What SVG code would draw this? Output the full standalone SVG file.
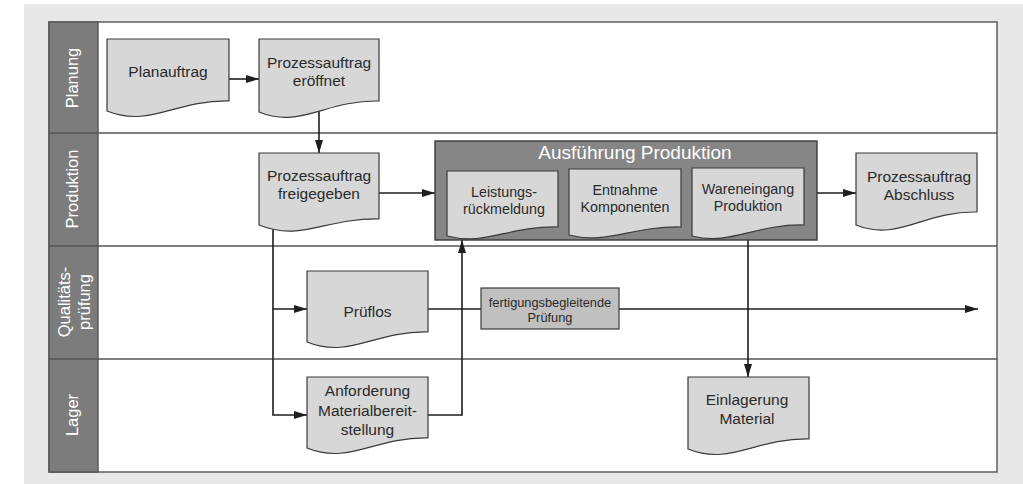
<svg xmlns="http://www.w3.org/2000/svg" width="1023" height="484" viewBox="0 0 1023 484">
<defs>
<style>
.doc{fill:#d7d7d7;stroke:#3a3a3a;stroke-width:1.2}
.t{font-family:"Liberation Sans",Arial,sans-serif;fill:#2a2a2a;text-anchor:middle}
.big{font-size:15.5px}
.mid{font-size:14.3px}
.lane{font-family:"Liberation Sans",Arial,sans-serif;font-size:16.5px;fill:#ffffff;text-anchor:middle}
.conn{fill:none;stroke:#1e1e1e;stroke-width:1.6}
.sep{stroke:#555555;stroke-width:1.4}
</style>
<marker id="ah" markerUnits="userSpaceOnUse" markerWidth="13" markerHeight="8" refX="13" refY="4" orient="auto">
<path d="M0,0 L13,4 L0,8 Z" fill="#1e1e1e"/>
</marker>
</defs>
<rect x="0" y="0" width="1023" height="484" fill="#ffffff"/>
<rect x="24" y="4" width="999" height="480" fill="#e8e8e8"/>
<g id="frame">
<rect x="49" y="22" width="948" height="450" fill="#ffffff" stroke="#555555" stroke-width="1.4"/>
<rect x="49" y="22" width="49" height="450" fill="#7c7c7c" stroke="#555555" stroke-width="1.4"/>
<line class="sep" x1="49" y1="133" x2="997" y2="133"/>
<line class="sep" x1="49" y1="246" x2="997" y2="246"/>
<line class="sep" x1="49" y1="359" x2="997" y2="359"/>
</g>
<g id="lanes">
<text class="lane" transform="translate(78,78) rotate(-90)">Planung</text>
<text class="lane" transform="translate(78,189) rotate(-90)">Produktion</text>
<text class="lane" transform="translate(70,302) rotate(-90)">Qualitäts-</text>
<text class="lane" transform="translate(90,302) rotate(-90)">prüfung</text>
<text class="lane" transform="translate(78,415) rotate(-90)">Lager</text>
</g>
<g id="connectors">
<path class="conn" d="M229,79 H259" marker-end="url(#ah)"/>
<path class="conn" d="M319,108 V153" marker-end="url(#ah)"/>
<path class="conn" d="M379,193 H435" marker-end="url(#ah)"/>
<path class="conn" d="M273,222 V309 H307" marker-end="url(#ah)"/>
<path class="conn" d="M273,309 V415 H307" marker-end="url(#ah)"/>
<path class="conn" d="M428,415 H462 V240" marker-end="url(#ah)"/>
<path class="conn" d="M817,193 H856" marker-end="url(#ah)"/>
<path class="conn" d="M748,232 V377" marker-end="url(#ah)"/>
<path class="conn" d="M428,309 H978" marker-end="url(#ah)"/>
</g>
<g id="planauftrag">
<path class="doc" d="M107,39 H229 V101 C174.1,100 149.7,128 107,111 Z"/>
<text class="t big" x="168" y="77">Planauftrag</text>
</g>
<g id="eroeffnet">
<path class="doc" d="M259,39 H379 V101 C325,100 301,129 259,112 Z"/>
<text class="t big" x="319" y="68">Prozessauftrag</text>
<text class="t big" x="319" y="86">eröffnet</text>
</g>
<g id="freigegeben">
<path class="doc" d="M259,153 H379 V219 C325,218 301,242 259,225 Z"/>
<text class="t big" x="319" y="181">Prozessauftrag</text>
<text class="t big" x="319" y="199">freigegeben</text>
</g>
<g id="ausfuehrung">
<rect x="435" y="141" width="382" height="99" fill="#868686" stroke="#3a3a3a" stroke-width="1.4"/>
<text x="635" y="159" font-family="'Liberation Sans',Arial,sans-serif" font-size="19px" fill="#ffffff" text-anchor="middle">Ausführung Produktion</text>
</g>
<g id="leistung">
<path class="doc" d="M447,171 H558 V227 C508,226 485.9,246 447,236 Z"/>
<text class="t mid" x="504" y="196.5">Leistungs-</text>
<text class="t mid" x="504" y="214">rückmeldung</text>
</g>
<g id="entnahme">
<path class="doc" d="M569,169 H681 V227 C630.6,226 608.2,245 569,235 Z"/>
<text class="t mid" x="625" y="195">Entnahme</text>
<text class="t mid" x="625" y="212">Komponenten</text>
</g>
<g id="wareneingang">
<path class="doc" d="M692,168 H804 V225 C753.6,224 731.2,246 692,236 Z"/>
<text class="t mid" x="748" y="194">Wareneingang</text>
<text class="t mid" x="748" y="211">Produktion</text>
</g>
<g id="abschluss">
<path class="doc" d="M856,153 H977 V212 C922.5,211 898.4,242 856,225 Z"/>
<text class="t big" x="919" y="182">Prozessauftrag</text>
<text class="t big" x="919" y="200">Abschluss</text>
</g>
<g id="prueflos">
<path class="doc" d="M307,271 H428 V332 C373.5,331 349.4,359 307,342 Z"/>
<text class="t big" x="367.5" y="317">Prüflos</text>
</g>
<g id="pruefung">
<rect x="481" y="288" width="138" height="41" fill="#c0c0c0" stroke="#3a3a3a" stroke-width="1.2"/>
<text class="t" font-size="12.8px" x="550" y="306.5">fertigungsbegleitende</text>
<text class="t" font-size="12.8px" x="550" y="321.5">Prüfung</text>
</g>
<g id="anforderung">
<path class="doc" d="M307,377 H428 V438 C373.5,437 349.4,465 307,448 Z"/>
<text class="t big" x="367.5" y="396">Anforderung</text>
<text class="t big" x="367.5" y="415.5">Materialbereit-</text>
<text class="t big" x="367.5" y="435">stellung</text>
</g>
<g id="einlagerung">
<path class="doc" d="M688,377 H809 V439 C754.5,438 730.4,466 688,449 Z"/>
<text class="t big" x="747" y="405">Einlagerung</text>
<text class="t big" x="747" y="424">Material</text>
</g>
</svg>
